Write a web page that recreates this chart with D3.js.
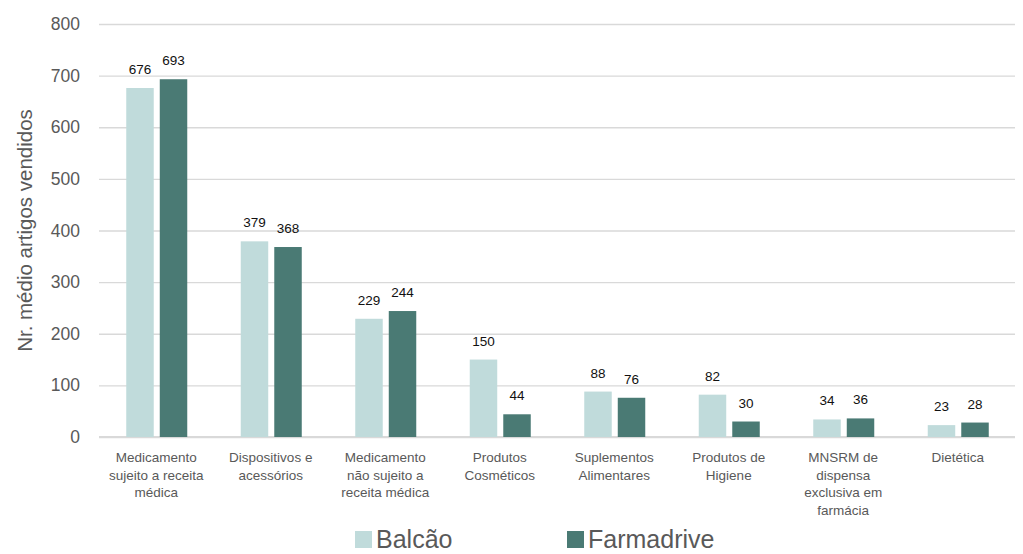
<!DOCTYPE html>
<html>
<head>
<meta charset="utf-8">
<script src="https://cdn.jsdelivr.net/npm/d3@7"></script>
<style>
  html, body { margin: 0; padding: 0; background: #fff; }
  svg { display: block; font-family: "Liberation Sans", Arial, sans-serif; }
</style>
</head>
<body>
<svg id="chart" width="1023" height="554"></svg>
<script>
// Average number of items sold per product category, by sales channel
const categories = [
  ["Medicamento", "sujeito a receita", "médica"],
  ["Dispositivos e", "acessórios"],
  ["Medicamento", "não sujeito a", "receita médica"],
  ["Produtos", "Cosméticos"],
  ["Suplementos", "Alimentares"],
  ["Produtos de", "Higiene"],
  ["MNSRM de", "dispensa", "exclusiva em", "farmácia"],
  ["Dietética"]
];
const seriesNames = ["Balcão", "Farmadrive"];
const balcao = [676, 379, 229, 150, 88, 82, 34, 23];
const farmadrive = [693, 368, 244, 44, 76, 30, 36, 28];
const yTicks = [0, 100, 200, 300, 400, 500, 600, 700, 800];
const colors = ["#c0dbdb", "#4a7a74"];

const svg = d3.select("#chart");
const margin = { left: 99, right: 8, top: 24, bottom: 117 };
const W = 1023, H = 554;
const plotW = W - margin.left - margin.right;
const plotH = H - margin.top - margin.bottom;

const g = svg.append("g").attr("transform", `translate(${margin.left},${margin.top})`);

const x0 = d3.scaleBand().domain(d3.range(categories.length)).range([0, plotW]).paddingInner(0).paddingOuter(0);
const x1 = d3.scaleBand().domain([0, 1]).range([x0.bandwidth() / 2 - 30, x0.bandwidth() / 2 + 31]).paddingInner(0.18);
const y = d3.scaleLinear().domain([0, 800]).range([plotH, 0]);

// gridlines and tick labels
const yAxis = d3.axisLeft(y).tickValues(yTicks).tickSize(-plotW).tickPadding(19);
const ya = g.append("g").call(yAxis);
ya.select(".domain").remove();
ya.selectAll(".tick line").attr("stroke", "#d9d9d9").attr("stroke-width", 1.3);
ya.selectAll(".tick text").attr("fill", "#595959").attr("font-size", 17.5)
  .attr("font-family", "Liberation Sans, Arial, sans-serif");

// baseline
g.append("line").attr("x1", 0).attr("x2", plotW).attr("y1", plotH).attr("y2", plotH)
  .attr("stroke", "#d9d9d9").attr("stroke-width", 2);

// bars
const data = categories.map((c, i) => ({ i, vals: [balcao[i], farmadrive[i]] }));
const groups = g.selectAll(".grp").data(data).enter().append("g")
  .attr("transform", d => `translate(${x0(d.i)},0)`);

groups.selectAll("rect").data(d => d.vals.map((v, s) => ({ v, s }))).enter().append("rect")
  .attr("x", d => x1(d.s))
  .attr("width", x1.bandwidth())
  .attr("y", d => y(d.v))
  .attr("height", d => plotH - y(d.v))
  .attr("fill", d => colors[d.s]);

// value labels
groups.selectAll("text.val").data(d => d.vals.map((v, s) => ({ v, s }))).enter().append("text")
  .attr("class", "val")
  .attr("x", d => x1(d.s) + x1.bandwidth() / 2)
  .attr("y", d => y(d.v) - 14)
  .attr("text-anchor", "middle")
  .attr("font-size", 13.5)
  .attr("fill", "#111")
  .text(d => d.v);

// category labels
groups.each(function (d) {
  const t = d3.select(this).append("text")
    .attr("text-anchor", "middle")
    .attr("font-size", 13.5)
    .attr("fill", "#595959");
  categories[d.i].forEach((line, k) => {
    t.append("tspan").attr("x", x0.bandwidth() / 2).attr("y", plotH + 25 + k * 17.5).text(line);
  });
});

// y axis title
svg.append("text")
  .attr("transform", `translate(32,${margin.top + plotH / 2}) rotate(-90)`)
  .attr("text-anchor", "middle")
  .attr("font-size", 20.5)
  .attr("fill", "#595959")
  .text("Nr. médio artigos vendidos");

// legend
const legend = svg.append("g").attr("transform", "translate(355,539)");
const legendX = [0, 212];
seriesNames.forEach((name, s) => {
  const lg = legend.append("g").attr("transform", `translate(${legendX[s]},0)`);
  lg.append("rect").attr("x", 0).attr("y", -8).attr("width", 17).attr("height", 17).attr("fill", colors[s]);
  lg.append("text").attr("x", 21).attr("y", 9).attr("font-size", 25).attr("fill", "#595959").text(name);
});
</script>
</body>
</html>
